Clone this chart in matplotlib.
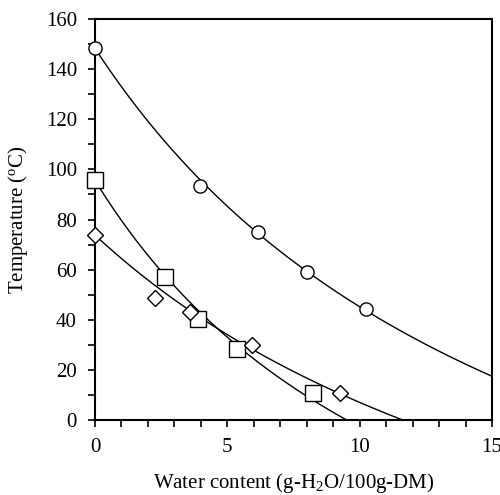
import numpy as np
import matplotlib
matplotlib.use("Agg")
import matplotlib.pyplot as plt
from matplotlib.ticker import MultipleLocator

plt.rcParams['font.family'] = ['Liberation Serif', 'DejaVu Serif']
plt.rcParams['mathtext.fontset'] = 'custom'
plt.rcParams['mathtext.rm'] = 'Liberation Serif'
plt.rcParams['mathtext.it'] = 'Liberation Serif:italic'

# measured points (water content g-H2O/100g-DM, temperature C)
circle_x = [0.0, 3.97, 6.16, 8.02, 10.24]
circle_y = [148.3, 93.5, 75.0, 59.2, 44.2]
square_x = [0.0, 2.64, 3.9, 5.35, 8.25]
square_y = [95.6, 57.2, 40.3, 28.2, 10.6]
diamond_x = [0.0, 2.27, 3.59, 5.92, 9.26]
diamond_y = [73.8, 48.6, 43.0, 29.9, 10.9]

tg_water = -135.0  # Tg of water used in Gordon-Taylor fit


def gordon_taylor_k(x, y):
    # least squares for k with Tg1 = first point
    x = np.asarray(x) / 100.0
    y = np.asarray(y)
    a = y[1:] - y[0]
    b = x[1:] * (tg_water - y[1:])
    return np.sum(a * b) / np.sum(b * b)


def gordon_taylor(xx, tg1, k):
    w = xx / 100.0
    return (tg1 + k * w * tg_water) / (1 + k * w)


fig = plt.figure(figsize=(5.0, 4.95), dpi=100)
ax = fig.add_axes([0.19, 0.1515, 0.794, 0.8101])

xx = np.linspace(0, 15, 400)
for xs, ys, mk, ms in [(circle_x, circle_y, 'o', 9.5),
                       (square_x, square_y, 's', 11),
                       (diamond_x, diamond_y, 'D', 7.8)]:
    k = gordon_taylor_k(xs, ys)
    yy = gordon_taylor(xx, ys[0], k)
    ax.plot(xx, yy, color='black', lw=1.0, zorder=2)
    ax.plot(xs, ys, linestyle='none', marker=mk, ms=ms, mfc='white',
            mec='black', mew=1.0, zorder=3, clip_on=False)

ax.set_xlim(0, 15)
ax.set_ylim(0, 160)
ax.xaxis.set_major_locator(MultipleLocator(5))
ax.xaxis.set_minor_locator(MultipleLocator(1))
ax.yaxis.set_major_locator(MultipleLocator(20))
ax.yaxis.set_minor_locator(MultipleLocator(10))
ax.tick_params(which='both', direction='out', length=5, width=1.2,
               labelsize=15, colors='black')
ax.tick_params(axis='y', which='both', pad=8)
ax.tick_params(axis='x', which='both', pad=8)
for s in ax.spines.values():
    s.set_linewidth(1.5)

ax.set_xlabel('Water content (g-H$_2$O/100g-DM)', fontsize=15, labelpad=10)
ax.set_ylabel('Temperature ($^{\\mathrm{o}}$C)', fontsize=15, labelpad=11)

fig.savefig('out.png', dpi=100)
